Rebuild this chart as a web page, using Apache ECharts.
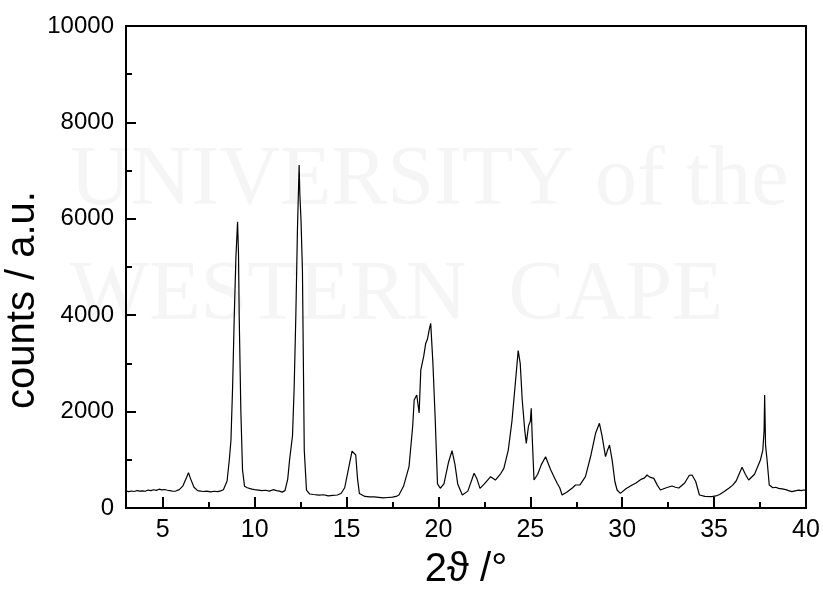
<!DOCTYPE html>
<html>
<head>
<meta charset="utf-8">
<script src="https://cdn.jsdelivr.net/npm/echarts@6/dist/echarts.min.js"></script>
<style>html,body{margin:0;padding:0;background:#fff}#c{width:823px;height:595px}</style>
</head>
<body>
<div id="c"></div>
<script>
// 2θ positions (degrees)
const twoTheta = [3.0,3.15,3.3,3.45,3.6,3.75,3.9,4.05,4.2,4.35,4.5,4.65,4.8,4.95,5.1,5.25,5.4,5.55,5.7,5.9,6.1,6.3,6.4,6.5,6.7,6.9,7.05,7.2,7.4,7.6,7.8,8.0,8.15,8.3,8.5,8.62,8.71,8.8,8.89,8.98,9.07,9.12,9.16,9.25,9.34,9.45,9.6,9.7,9.85,10.0,10.2,10.4,10.6,10.8,11.0,11.2,11.35,11.5,11.65,11.8,11.9,12.06,12.15,12.24,12.33,12.42,12.46,12.52,12.6,12.7,12.82,13.0,13.2,13.5,13.75,14.0,14.25,14.5,14.7,14.9,15.1,15.3,15.4,15.5,15.6,15.7,16.0,16.25,16.5,16.75,17.0,17.25,17.5,17.7,17.85,18.1,18.4,18.6,18.68,18.82,18.95,19.04,19.2,19.31,19.4,19.5,19.58,19.7,19.82,19.95,20.1,20.3,20.55,20.74,20.9,21.05,21.3,21.6,21.94,22.1,22.26,22.5,22.84,23.1,23.4,23.56,23.8,24.0,24.2,24.34,24.45,24.56,24.7,24.78,24.9,25.0,25.05,25.1,25.2,25.4,25.6,25.83,26.1,26.3,26.46,26.6,26.73,27.0,27.3,27.46,27.7,28.0,28.3,28.55,28.76,28.9,29.09,29.2,29.31,29.45,29.6,29.72,29.9,30.2,30.54,30.75,30.9,31.05,31.2,31.35,31.5,31.72,31.9,32.08,32.4,32.71,32.9,33.08,33.4,33.65,33.8,34.0,34.2,34.5,34.87,35.1,35.3,35.55,35.8,36.0,36.2,36.52,36.7,36.88,37.2,37.52,37.65,37.72,37.75,37.8,37.88,38.0,38.2,38.35,38.51,38.7,38.9,39.05,39.23,39.4,39.6,39.75,39.87,40.0];
// counts (a.u.)
const counts = [350,340,352,342,362,350,356,348,372,360,378,366,390,376,384,368,360,348,352,380,460,640,733,620,430,360,352,342,350,335,348,340,356,380,560,995,1400,2500,3970,5200,5940,5300,3970,2000,790,450,420,400,392,380,372,360,368,350,380,360,350,330,360,600,995,1500,2500,3970,5800,7116,6500,6000,4940,1200,373,290,280,268,275,250,262,270,300,420,800,1180,1218,1100,600,300,240,232,230,222,210,218,225,240,270,450,857,1700,2240,2344,1970,2860,3150,3420,3500,3700,3830,3000,1890,500,410,500,950,1190,900,500,270,350,720,600,408,500,650,580,720,823,1200,1800,2655,3264,3000,2240,1600,1342,1700,1800,2068,1500,580,700,900,1065,800,640,512,420,270,330,420,477,480,650,1100,1550,1757,1500,1065,1200,1307,1000,550,373,304,400,477,520,560,600,620,685,640,615,480,373,420,456,430,415,520,680,685,550,270,240,235,250,280,340,408,470,560,844,700,580,700,996,1200,1600,2344,1300,1000,477,420,430,408,395,380,360,340,355,370,360,373,370];
const xMajorTicks = [5,10,15,20,25,30,35,40];
const xMinorTicks = [7.5,12.5,17.5,22.5,27.5,32.5,37.5];
const yTitle = 'counts / a.u.';
const xTitle = '2ϑ /°';

const chart = echarts.init(document.getElementById('c'), null, {renderer:'canvas'});
const font = 'Liberation Sans, Arial, sans-serif';
const baseAxis = {
  type:'value', min:3, max:40,
  axisLine:{show:true, lineStyle:{color:'#000', width:2}},
  splitLine:{show:false}
};
chart.setOption({
  animation:false,
  backgroundColor:'#fff',
  graphic:[
    {type:'text', left:70, top:140, silent:true, z:-10, style:{text:'UNIVERSITY of the', font:'84px "Liberation Serif", serif', fill:'#f5f5f5'}},
    {type:'text', left:70, top:255, silent:true, z:-10, style:{text:'WESTERN  CAPE', font:'84px "Liberation Serif", serif', fill:'#f5f5f5'}},
    {type:'text', x:23, y:300, rotation:Math.PI/2, silent:true,
     style:{text:yTitle, font:'40px Liberation Sans, Arial, sans-serif', fill:'#000', align:'center', verticalAlign:'middle'}}
  ],
  grid:{left:126, right:17, top:26, bottom:87, containLabel:false, outerBoundsMode:'none', show:true, borderColor:'#000', borderWidth:2, backgroundColor:'transparent'},
  xAxis:[
    Object.assign({}, baseAxis, {
      name:xTitle, nameLocation:'middle', nameGap:42,
      nameTextStyle:{fontFamily:font, fontSize:40, color:'#000'},
      axisTick:{show:true, inside:true, length:11, customValues:xMajorTicks, lineStyle:{color:'#000', width:2}},
      axisLabel:{show:true, customValues:xMajorTicks, fontFamily:font, fontSize:25, color:'#000', margin:10}
    }),
    Object.assign({}, baseAxis, {
      position:'bottom',
      axisTick:{show:true, inside:true, length:6, customValues:xMinorTicks, lineStyle:{color:'#000', width:2}},
      axisLabel:{show:false}
    })
  ],
  yAxis:{
    type:'value', min:0, max:10000, interval:2000,
    axisLine:{show:true, lineStyle:{color:'#000', width:2}},
    axisTick:{show:true, inside:true, length:10, lineStyle:{color:'#000', width:2}},
    minorTick:{show:true, splitNumber:2, length:6, lineStyle:{color:'#000', width:2}},
    axisLabel:{fontFamily:font, fontSize:24, color:'#000', margin:12, formatter:(v)=>String(v)},
    splitLine:{show:false}
  },
  series:[{
    type:'line', xAxisIndex:0,
    data: twoTheta.map((x,i)=>[x, counts[i]]),
    showSymbol:false, symbol:'none',
    lineStyle:{color:'#000', width:1.2},
    z:5
  }]
});
</script>
</body>
</html>
